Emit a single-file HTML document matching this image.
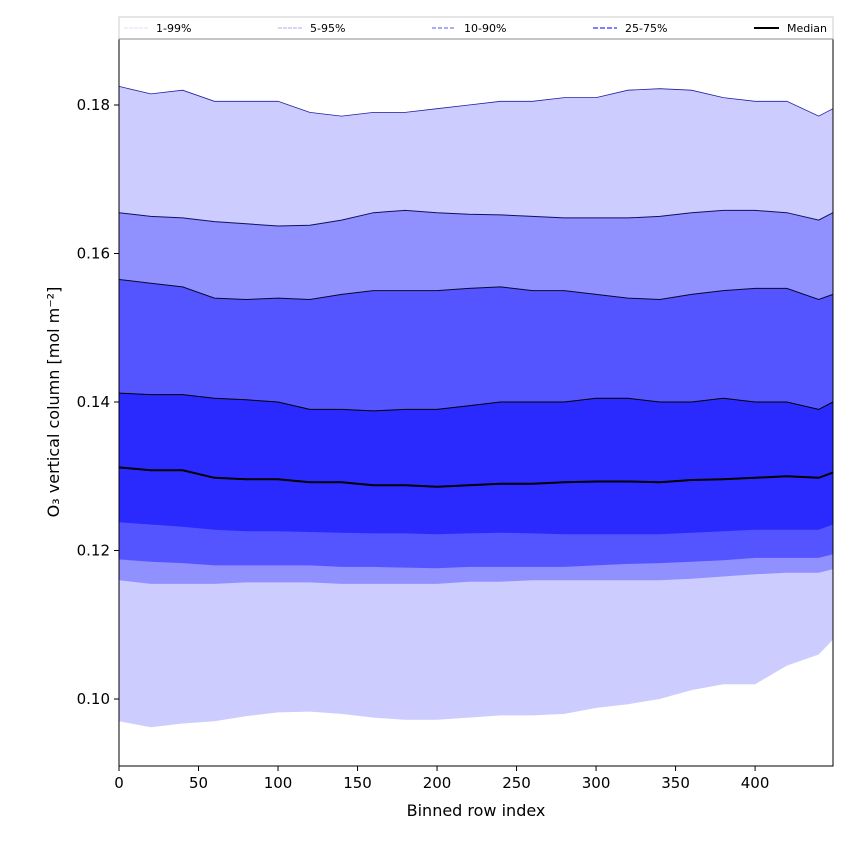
<!DOCTYPE html>
<html><head><meta charset="utf-8"><style>
body{margin:0;background:#fff;font-family:"DejaVu Sans","Liberation Sans",sans-serif}
</style></head><body>
<svg id="chart" width="850" height="850" xmlns="http://www.w3.org/2000/svg" font-family="DejaVu Sans, Liberation Sans, sans-serif"></svg>
<script>
const xIdx=[0,20,40,60,80,100,120,140,160,180,200,220,240,260,280,300,320,340,360,380,400,420,440,449];
const p99=[0.1825,0.1815,0.182,0.1805,0.1805,0.1805,0.179,0.1785,0.179,0.179,0.1795,0.180,0.1805,0.1805,0.181,0.181,0.182,0.1822,0.182,0.181,0.1805,0.1805,0.1785,0.1795];
const p95=[0.1655,0.165,0.1648,0.1643,0.164,0.1637,0.1638,0.1645,0.1655,0.1658,0.1655,0.1653,0.1652,0.165,0.1648,0.1648,0.1648,0.165,0.1655,0.1658,0.1658,0.1655,0.1645,0.1655];
const p90=[0.1565,0.156,0.1555,0.154,0.1538,0.154,0.1538,0.1545,0.155,0.155,0.155,0.1553,0.1555,0.155,0.155,0.1545,0.154,0.1538,0.1545,0.155,0.1553,0.1553,0.1538,0.1545];
const p75=[0.1412,0.141,0.141,0.1405,0.1403,0.140,0.139,0.139,0.1388,0.139,0.139,0.1395,0.140,0.140,0.140,0.1405,0.1405,0.140,0.140,0.1405,0.140,0.140,0.139,0.140];
const med=[0.1312,0.1308,0.1308,0.1298,0.1296,0.1296,0.1292,0.1292,0.1288,0.1288,0.1286,0.1288,0.129,0.129,0.1292,0.1293,0.1293,0.1292,0.1295,0.1296,0.1298,0.1300,0.1298,0.1305];
const p25=[0.1238,0.1235,0.1232,0.1228,0.1226,0.1226,0.1225,0.1224,0.1223,0.1223,0.1222,0.1223,0.1224,0.1223,0.1222,0.1222,0.1222,0.1222,0.1224,0.1226,0.1228,0.1228,0.1228,0.1235];
const p10=[0.1188,0.1185,0.1183,0.118,0.118,0.118,0.118,0.1178,0.1178,0.1177,0.1176,0.1178,0.1178,0.1178,0.1178,0.118,0.1182,0.1183,0.1185,0.1187,0.119,0.119,0.119,0.1195];
const p5=[0.116,0.1155,0.1155,0.1155,0.1157,0.1157,0.1157,0.1155,0.1155,0.1155,0.1155,0.1158,0.1158,0.116,0.116,0.116,0.116,0.116,0.1162,0.1165,0.1168,0.117,0.117,0.1175];
const p1=[0.097,0.0962,0.0967,0.097,0.0977,0.0982,0.0983,0.098,0.0975,0.0972,0.0972,0.0975,0.0978,0.0978,0.098,0.0988,0.0993,0.1,0.1012,0.102,0.102,0.1045,0.106,0.108];
const xTicks=[0,50,100,150,200,250,300,350,400];
const yTicks=[0.10,0.12,0.14,0.16,0.18];

const L=119,R=833,T=39,B=766,X0=0,X1=449,Y0=0.09098,Y1=0.18889;
const sx=v=>L+(v-X0)/(X1-X0)*(R-L);
const sy=v=>B-(v-Y0)/(Y1-Y0)*(B-T);
const NS="http://www.w3.org/2000/svg";
const svg=document.getElementById('chart');
function mk(t,a,p){const e=document.createElementNS(NS,t);for(const k in a)e.setAttribute(k,a[k]);(p||svg).appendChild(e);return e;}
function pts(arr){return xIdx.map((x,i)=>sx(x).toFixed(1)+','+sy(arr[i]).toFixed(1));}
function band(lo,hi,col,name){
  const d='M'+pts(hi).join('L')+'L'+pts(lo).reverse().join('L')+'Z';
  const e=mk('path',{d:d,fill:col,stroke:'none'});
  
  
}
function line(arr,col,w,name){
  const e=mk('path',{d:'M'+pts(arr).join('L'),fill:'none',stroke:col,'stroke-width':w});
  
  
}
band(p1,p99,'#ccccff','band-1-99');
band(p5,p95,'#9090ff','band-5-95');
band(p10,p90,'#5555ff','band-10-90');
band(p25,p75,'#2a2aff','band-25-75');
line(p99,'#2020a0',0.8,'line-p99');
line(p95,'#101060',1,'line-p95');
line(p90,'#080830',1,'line-p90');
line(p75,'#000',1,'line-p75');
line(med,'#000',2,'median-line');
const fr=mk('rect',{x:L,y:T,width:R-L,height:B-T,fill:'none',stroke:'#000','stroke-width':1});


xTicks.forEach(v=>{
  mk('line',{x1:sx(v),x2:sx(v),y1:B,y2:B+5,stroke:'#000'});
  const t=mk('text',{x:sx(v),y:B+22,'text-anchor':'middle','font-size':15});
  t.textContent=v;
  
  
});
yTicks.forEach(v=>{
  mk('line',{x1:L-5,x2:L,y1:sy(v),y2:sy(v),stroke:'#000'});
  const t=mk('text',{x:L-9,y:sy(v)+5,'text-anchor':'end','font-size':15});
  t.textContent=v.toFixed(2);
  
  
});
</script>
<svg width="850" height="850" style="position:absolute;left:0;top:0;pointer-events:none" font-family="DejaVu Sans, Liberation Sans, sans-serif">
<text x="476" y="816" text-anchor="middle" font-size="16">Binned row index</text>
<text x="59" y="402" text-anchor="middle" font-size="16" transform="rotate(-90 59 402)">O₃ vertical column [mol m⁻²]</text>
<g>
<rect x="119" y="17" width="714" height="22" fill="#fff" stroke="#ccc"/>
<line x1="119" y1="39" x2="833" y2="39" stroke="#888"/>
<line x1="124" y1="28" x2="148" y2="28" stroke="#ddddff" stroke-dasharray="4 1"/>
<text x="156" y="32" font-size="11">1-99%</text>
<line x1="278" y1="28" x2="302" y2="28" stroke="#aaaaff" stroke-dasharray="4 1"/>
<text x="310" y="32" font-size="11">5-95%</text>
<line x1="432" y1="28" x2="456" y2="28" stroke="#7777ff" stroke-width="1.2" stroke-dasharray="4 2"/>
<text x="464" y="32" font-size="11">10-90%</text>
<line x1="593" y1="28" x2="617" y2="28" stroke="#5555ff" stroke-width="1.6" stroke-dasharray="5 2"/>
<text x="625" y="32" font-size="11">25-75%</text>
<line x1="754" y1="28" x2="779" y2="28" stroke="#000" stroke-width="2"/>
<text x="787" y="32" font-size="11">Median</text>
</g>
</svg>
</body></html>
